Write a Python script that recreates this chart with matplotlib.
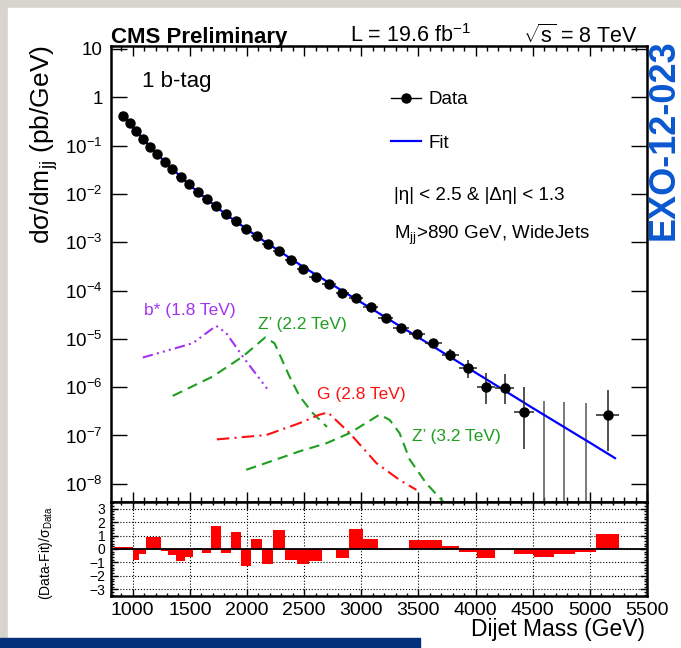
import numpy as np
import matplotlib
matplotlib.use("Agg")
import matplotlib.pyplot as plt
from matplotlib.patches import Rectangle
from matplotlib.lines import Line2D
from matplotlib.ticker import MultipleLocator, NullFormatter

plt.rcParams['font.family'] = ['Liberation Sans', 'DejaVu Sans']
plt.rcParams['mathtext.fontset'] = 'custom'
plt.rcParams['mathtext.rm'] = 'Liberation Sans'
plt.rcParams['mathtext.it'] = 'Liberation Sans:italic'
plt.rcParams['mathtext.bf'] = 'Liberation Sans:bold'

# dijet mass bin edges (GeV)
bin_edges = [838, 890, 944, 1000, 1058, 1118, 1181, 1246, 1313, 1383, 1455,
             1530, 1607, 1687, 1770, 1856, 1945, 2037, 2132, 2231, 2332, 2438,
             2546, 2659, 2775, 2895, 3019, 3147, 3279, 3416, 3558, 3704, 3854,
             4010, 4171, 4337, 4509, 4686, 4869, 5058, 5253, 5455]

# data points: bin index (into bin_edges) and cross section (pb/GeV)
data_bin = list(range(1, 36)) + [39]
data_val = [4.17e-1, 2.90e-1, 2.04e-1, 1.39e-1, 9.5e-2, 6.6e-2, 4.57e-2, 3.31e-2,
            2.29e-2, 1.62e-2, 1.12e-2, 7.8e-3, 5.6e-3, 3.8e-3, 2.75e-3, 1.86e-3,
            1.35e-3, 9.1e-4, 6.5e-4, 4.2e-4, 2.8e-4, 1.95e-4, 1.35e-4, 8.9e-5,
            6.9e-5, 4.5e-5, 2.7e-5, 1.7e-5, 1.26e-5, 8.1e-6, 4.6e-6, 2.45e-6,
            1.0e-6, 9.8e-7, 3.0e-7, 2.7e-7]
# error bar size in decades (up / down)
err_up_dex = [0.003, 0.003, 0.004, 0.004, 0.005, 0.005, 0.006, 0.007, 0.008, 0.009,
              0.010, 0.011, 0.012, 0.013, 0.014, 0.015, 0.016, 0.017, 0.017, 0.018,
              0.018, 0.021, 0.025, 0.030, 0.034, 0.041, 0.053, 0.065, 0.075, 0.090,
              0.12, 0.17, 0.29, 0.29, 0.52, 0.52]
err_dn_dex = [0.003, 0.003, 0.004, 0.004, 0.005, 0.005, 0.006, 0.007, 0.008, 0.009,
              0.010, 0.011, 0.012, 0.013, 0.014, 0.015, 0.016, 0.017, 0.017, 0.018,
              0.018, 0.021, 0.025, 0.030, 0.034, 0.041, 0.053, 0.065, 0.075, 0.090,
              0.13, 0.20, 0.34, 0.34, 0.76, 0.76]
# empty bins: only an upper error bar
empty_bin = [36, 37, 38]
empty_up = [5.2e-7, 5.0e-7, 4.8e-7]

# fit curve
fit_mass = [900, 1000, 1200, 1500, 1800, 2100, 2500, 2900, 3500, 4000, 4500, 5000, 5220]
fit_val = [4.7e-1, 2.4e-1, 7.1e-2, 1.5e-2, 4.0e-3, 1.26e-3, 3.0e-4, 7.9e-5,
           1.07e-5, 2.0e-6, 3.7e-7, 7.1e-8, 3.4e-8]

# signal shapes
bstar_mass = [1088, 1525, 1730, 1818, 1963, 2188]
bstar_val = [4.1e-6, 8.1e-6, 1.86e-5, 1.32e-5, 4.3e-6, 8.5e-7]
zp22_mass = [1350, 1700, 1963, 2159, 2241, 2372, 2460, 2576, 2700]
zp22_val = [6.6e-7, 1.66e-6, 4.3e-6, 1.07e-5, 8.1e-6, 1.66e-6, 6.5e-7, 2.9e-7, 1.5e-7]
g28_mass = [1736, 2168, 2460, 2635, 2708, 2898, 3131, 3335, 3482]
g28_val = [8.3e-8, 1.02e-7, 1.8e-7, 2.7e-7, 3.0e-7, 1.12e-7, 2.7e-8, 1.2e-8, 7.5e-9]
zp32_mass = [1993, 2168, 2460, 2694, 2898, 3160, 3248, 3335, 3423, 3569, 3715]
zp32_val = [1.95e-8, 2.7e-8, 4.7e-8, 6.9e-8, 1.12e-7, 2.7e-7, 2.1e-7, 1.12e-7,
            3.2e-8, 1.02e-8, 4.3e-9]

# (Data-Fit)/sigma per bin
residual = [0.15, 0.15, 0.15, -0.82, -0.36, 0.9, 0.9, -0.18, -0.44, -0.9,
            -0.56, 0.05, -0.3, 1.7, -0.28, 1.28, -1.3, 0.77, -1.1, 1.38,
            -0.85, -1.08, -0.9, -0.05, -0.64, 1.46, 0.72, -0.05, -0.03, 0.7,
            0.65, 0.2, -0.25, -0.68, 0.0, -0.35, -0.58, -0.38, -0.2, 1.1, 0.0]

ytick_vals = [1e-8, 1e-7, 1e-6, 1e-5, 1e-4, 1e-3, 1e-2, 1e-1, 1, 10]
ytick_labels = ['$10^{-8}$', '$10^{-7}$', '$10^{-6}$', '$10^{-5}$', '$10^{-4}$',
                '$10^{-3}$', '$10^{-2}$', '$10^{-1}$', '1', '10']
xtick_vals = [1000, 1500, 2000, 2500, 3000, 3500, 4000, 4500, 5000, 5500]

W, H = 681, 648
def fx(x): return x / W
def fy(y): return 1 - y / H

fig = plt.figure(figsize=(W / 100, H / 100), dpi=100, facecolor='#d7d4cd')
fig.add_artist(Rectangle((fx(8), 0), 1 - fx(8), fy(8), transform=fig.transFigure,
                         color='white', zorder=-2))
fig.add_artist(Rectangle((0, 0), fx(420), 10 / H, transform=fig.transFigure,
                         color='#03307a', zorder=-1))

ax1 = fig.add_axes([fx(111), fy(502), fx(647) - fx(111), fy(46) - fy(502)])
ax2 = fig.add_axes([fx(111), fy(596), fx(647) - fx(111), fy(502) - fy(596)])

edges = np.array(bin_edges, dtype=float)
centers = 0.5 * (edges[:-1] + edges[1:])
halfw = 0.5 * np.diff(edges)

# ---- main panel
idx = np.array(data_bin)
y = np.array(data_val)
ylo = y - y * 10 ** (-np.array(err_dn_dex))
yhi = y * 10 ** np.array(err_up_dex) - y
ax1.vlines(centers[empty_bin], 1e-10, empty_up, color='#555555', lw=1.1, zorder=3)
ax1.plot(fit_mass, fit_val, color='#0000ff', lw=1.6, zorder=4)
ax1.errorbar(centers[idx], y, xerr=halfw[idx], yerr=[ylo, yhi], fmt='o',
             color='black', ecolor='#222222', ms=6.5, elinewidth=1.1, capsize=0, zorder=5)

ax1.plot(bstar_mass, bstar_val, color='#a333ee', lw=1.5, ls=(0, (5, 2, 1, 2, 1, 2, 1, 2)))
ax1.plot(zp22_mass, zp22_val, color='#1f9e1f', lw=1.5, ls=(0, (5, 3)))
ax1.plot(g28_mass, g28_val, color='#ff1010', lw=1.5, ls=(0, (6, 2.5, 1, 2.5)))
ax1.plot(zp32_mass, zp32_val, color='#1f9e1f', lw=1.5, ls=(0, (5, 3)))

ax1.set_yscale('log')
ax1.set_xlim(810, 5500)
ax1.set_ylim(4.2e-9, 11.5)
ax1.set_yticks(ytick_vals, labels=ytick_labels)
ax1.yaxis.set_minor_formatter(NullFormatter())
ax1.set_xticks(xtick_vals)
ax1.xaxis.set_minor_locator(MultipleLocator(100))
ax1.tick_params(axis='both', which='both', direction='in', top=True, right=True,
                labelbottom=False, width=1)
ax1.tick_params(axis='y', which='major', length=11.5, labelsize=13.5, pad=6)
ax1.tick_params(axis='y', which='minor', length=5.8)
ax1.tick_params(axis='x', which='major', length=7)
ax1.tick_params(axis='x', which='minor', length=3.6)
for s in ax1.spines.values():
    s.set_linewidth(1.8)

handles = [Line2D([], [], color='black', marker='o', ms=6.5, lw=1),
           Line2D([], [], color='#0000ff', lw=1.6)]
fig.legend(handles, ['Data', 'Fit'], loc='upper left',
           bbox_to_anchor=(fx(391), fy(91)), frameon=False, fontsize=13.5,
           handlelength=1.6, handletextpad=0.4, labelspacing=1.4,
           borderpad=0, borderaxespad=0)

# ---- ratio panel
ax2.bar(edges[:-1], residual, width=np.diff(edges), align='edge',
        color='#ff0000', edgecolor='none', zorder=2)
ax2.axhline(0, color='black', lw=1.3, zorder=3)
ax2.set_xlim(810, 5500)
ax2.set_ylim(-3.5, 3.5)
ax2.set_xticks(xtick_vals)
ax2.set_yticks([-3, -2, -1, 0, 1, 2, 3])
ax2.xaxis.set_minor_locator(MultipleLocator(100))
ax2.yaxis.set_minor_locator(MultipleLocator(0.2))
ax2.grid(True, which='major', ls=':', color='black', lw=0.8, zorder=1)
ax2.tick_params(axis='both', which='both', direction='in', top=True, right=True, width=1)
ax2.tick_params(axis='x', which='major', length=5, labelsize=14, pad=4)
ax2.tick_params(axis='x', which='minor', length=2.5)
ax2.tick_params(axis='y', which='major', length=5, labelsize=10, pad=4)
ax2.tick_params(axis='y', which='minor', length=2.5)
for s in ax2.spines.values():
    s.set_linewidth(1.8)

# ---- texts
fig.text(fx(111), fy(42.5), 'CMS Preliminary', fontsize=16, fontweight='bold', va='baseline')
fig.text(fx(350), fy(42.5), 'L = 19.6 fb$^{-1}$', fontsize=15.5, va='baseline')
fig.text(fx(638), fy(42.5), r'$\sqrt{\mathrm{s}}$ = 8 TeV', fontsize=15.5,
         ha='right', va='baseline')
fig.text(fx(664), fy(140), 'EXO-12-023', rotation=90, ha='center', va='center',
         fontsize=26, fontweight='bold', color='#0a58d0')
fig.text(fx(142), fy(87), '1 b-tag', fontsize=16, va='baseline')
fig.text(fx(394), fy(195), '|η| < 2.5 & |Δη| < 1.3', fontsize=13.5, va='center')
fig.text(fx(394), fy(235), r'M$_{\mathrm{jj}}$>890 GeV, WideJets', fontsize=13.5, va='center')

fig.text(fx(144), fy(310), 'b* (1.8 TeV)', fontsize=12.5, color='#a333ee', va='center')
fig.text(fx(258), fy(324), 'Z’ (2.2 TeV)', fontsize=12.5, color='#1f9e1f', va='center')
fig.text(fx(317), fy(395), 'G (2.8 TeV)', fontsize=12.5, color='#ff1010', va='center')
fig.text(fx(412), fy(436), 'Z’ (3.2 TeV)', fontsize=12.5, color='#1f9e1f', va='center')

fig.text(fx(44), fy(145), r'dσ/dm$_{\mathrm{jj}}$ (pb/GeV)', rotation=90,
         ha='center', va='center', fontsize=19)
fig.text(fx(46), fy(553), r'(Data-Fit)/σ$_{\mathrm{Data}}$', rotation=90,
         ha='center', va='center', fontsize=10)
fig.text(fx(645), fy(636), 'Dijet Mass (GeV)', fontsize=16.5, ha='right', va='baseline')

fig.savefig('out.png', dpi=100, facecolor=fig.get_facecolor())
